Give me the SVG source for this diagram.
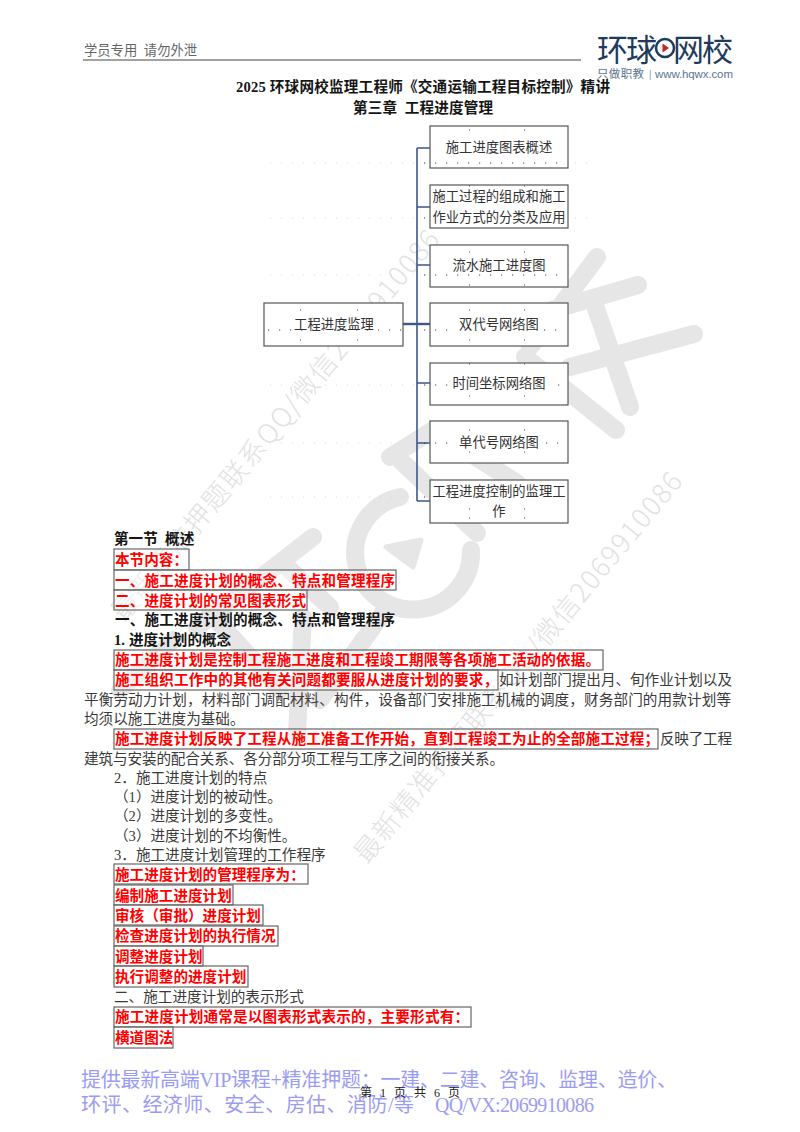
<svg xmlns="http://www.w3.org/2000/svg" width="800" height="1132" viewBox="0 0 800 1132">
<style>
text{font-family:"Liberation Serif","Noto Sans CJK SC",serif;font-size:14.600px;fill:#3a3a3a;white-space:pre}
.b{font-weight:700;fill:#151515}
.r{font-weight:700;fill:#f00}
.hl{fill:#fff;fill-opacity:.35;stroke:#666;stroke-width:1.200}
.n{fill:#fff;stroke:#555;stroke-width:1.200}
.nt{font-family:"Noto Sans CJK SC","Liberation Sans",sans-serif;font-size:13.300px;fill:#333;text-anchor:middle}
.c{fill:none;stroke:#3f5688;stroke-width:1.600}
.d{fill:none;stroke:#444;stroke-width:1.200;stroke-dasharray:1.200 9.800}
.p{fill:none;stroke:#444;stroke-width:1.200}
.g{fill:none;stroke:#d8d8d8;stroke-width:1;stroke-dasharray:1 10}
.wm{fill:none;stroke:#e6e6e6;stroke-width:18;stroke-linecap:round;stroke-linejoin:round}
.wt{font-family:"Noto Sans CJK SC","Liberation Sans",sans-serif;font-size:27px;font-weight:300;fill:#e2e2e2}
.f{font-size:20px;fill:#9a9cf4}
.s{font-family:"Noto Sans CJK SC","Liberation Sans",sans-serif;font-size:11.500px;fill:#5c7590}
.l{font-family:"Noto Sans CJK SC",sans-serif;font-size:31px;font-weight:400;fill:#1e3a5c}
</style>
<rect width="800" height="1132" fill="#fff"/>
<g id="watermark">
<path class="wm" d="M597 257L530 347M638 285L552 310M694 334L570 367M593 300L630 407M525 357L616 430"/>
<path class="wm" d="M390 457L433 430L517 483M400 460L477 533"/>
<path class="wm" d="M400 497A58 57 0 1 0 471 550"/>
<path class="wm" d="M313 537L197 627M287 567L330 607M210 613L280 690M303 617L297 733M383 613L320 700M173 640L120 690"/>
<path d="M386 547L421 540L413 567Z" fill="#e6e6e6" stroke="#e6e6e6" stroke-width="5" stroke-linejoin="round"/>
<text class="wt" transform="translate(124 623) rotate(-50.400)" textLength="497">最新精准押题联系QQ/微信2069910086</text>
<text class="wt" transform="translate(367 865) rotate(-50.400)" textLength="497">最新精准押题联系QQ/微信2069910086</text>
</g>
<g id="header">
<text x="84" y="55" style="fill:#666;font-size:13.300px">学员专用  请勿外泄</text>
<line x1="83" y1="60" x2="581" y2="60" stroke="#444" stroke-width="1.200"/>
<text class="l" x="597" y="61" textLength="60">环球</text>
<text class="l" x="673" y="61" textLength="60">网校</text>
<circle cx="665" cy="48" r="9" fill="none" stroke="#1e3a5c" stroke-width="2.500"/>
<path d="M662.500 43.500L669 48L662.500 52.500Z" fill="#c8202f"/>
<text class="s" x="597" y="78" textLength="47">只做职教</text>
<text class="s" x="649" y="78" style="font-size:9px">|</text>
<text class="s" x="655" y="78" textLength="78" style="font-family:'Liberation Sans',sans-serif">www.hqwx.com</text>
</g>
<text class="b" x="236" y="92" textLength="374">2025 环球网校监理工程师《交通运输工程目标控制》精讲</text>
<text class="b" x="353" y="113" textLength="140">第三章  工程进度管理</text>
<path class="g" d="M270 163H425M270 218H425M270 275H425M270 385H425M270 443H425M270 497H425M575 163H590M575 218H590M575 275H590"/>
<g id="connectors">
<path class="c" d="M417 148V501M417 148H430M417 207H430M417 265H430M417 383H430M417 443H430M417 501H430"/>
<path class="c" d="M403 324H430" style="stroke-width:2.400"/>
</g>
<g id="root"><rect class="n" x="264" y="303" width="139" height="43"/><path class="d" d="M268 330H402"/><path class="p" d="M300 310h1M357 310h1M300 340h1M357 340h1"/><text class="nt" x="334" y="329">工程进度监理</text></g>
<g id="n1"><rect class="n" x="430" y="126" width="138" height="42"/><path class="d" d="M424 163H566"/><path class="p" d="M469 130h1M524 130h1"/><text class="nt" x="499" y="152">施工进度图表概述</text></g>
<g id="n2"><rect class="n" x="430" y="185" width="138" height="43"/><path class="p" d="M469 186h1M524 186h1M424 218h1"/><text class="nt" x="499" y="201">施工过程的组成和施工</text><text class="nt" x="499" y="222">作业方式的分类及应用</text></g>
<g id="n3"><rect class="n" x="430" y="245" width="138" height="42"/><path class="d" d="M424 275H566"/><path class="p" d="M469 252h1M524 252h1M469 285h1M524 285h1"/><text class="nt" x="499" y="270">流水施工进度图</text></g>
<g id="n4"><rect class="n" x="430" y="303" width="138" height="43"/><path class="d" d="M424 330H452M544 330H566"/><path class="p" d="M469 310h1M524 310h1M469 340h1M524 340h1"/><text class="nt" x="499" y="329">双代号网络图</text></g>
<g id="n5"><rect class="n" x="430" y="363" width="138" height="42"/><path class="d" d="M424 385H448M558 385H566"/><path class="p" d="M469 364h1M524 364h1M469 396h1M524 396h1"/><text class="nt" x="499" y="388">时间坐标网络图</text></g>
<g id="n6"><rect class="n" x="430" y="421" width="138" height="42"/><path class="d" d="M424 443H454M546 443H566"/><path class="p" d="M469 430h1M524 430h1M469 452h1M524 452h1"/><text class="nt" x="499" y="447">单代号网络图</text></g>
<g id="n7"><rect class="n" x="430" y="480" width="138" height="43"/><path class="p" d="M469 509h1M524 509h1M469 518h1M524 518h1M424 497h1"/><text class="nt" x="499" y="496">工程进度控制的监理工</text><text class="nt" x="499" y="516">作</text></g>
<g id="body">
<rect class="hl" x="114" y="549" width="75" height="21"/>
<rect class="hl" x="114" y="570" width="282" height="20"/>
<rect class="hl" x="114" y="590" width="193" height="20"/>
<rect class="hl" x="114" y="650" width="489" height="20"/>
<rect class="hl" x="114" y="670" width="384" height="20"/>
<rect class="hl" x="114" y="729" width="544" height="20"/>
<rect class="hl" x="114" y="864" width="194" height="20"/>
<rect class="hl" x="114" y="885" width="119" height="20"/>
<rect class="hl" x="114" y="905" width="149" height="20"/>
<rect class="hl" x="114" y="926" width="164" height="20"/>
<rect class="hl" x="114" y="946" width="89" height="20"/>
<rect class="hl" x="114" y="966" width="134" height="21"/>
<rect class="hl" x="114" y="1007" width="357" height="20"/>
<rect class="hl" x="114" y="1027" width="59" height="21"/>
<text class="b" x="114" y="544">第一节  概述</text>
<text class="r" x="115" y="565">本节内容：</text>
<text class="r" x="115" y="586" textLength="280">一、施工进度计划的概念、特点和管理程序</text>
<text class="r" x="115" y="606" textLength="191">二、进度计划的常见图表形式</text>
<text class="b" x="115" y="625" textLength="280">一、施工进度计划的概念、特点和管理程序</text>
<text class="b" x="114" y="645">1.<tspan x="129">进度计划的概念</tspan></text>
<text class="r" x="115" y="665" textLength="485">施工进度计划是控制工程施工进度和工程竣工期限等各项施工活动的依据。</text>
<text class="r" x="115" y="685" textLength="383">施工组织工作中的其他有关问题都要服从进度计划的要求，</text>
<text x="499" y="685" textLength="233">如计划部门提出月、旬作业计划以及</text>
<text x="84" y="705" textLength="647">平衡劳动力计划，材料部门调配材料、构件，设备部门安排施工机械的调度，财务部门的用款计划等</text>
<text x="84" y="724">均须以施工进度为基础。</text>
<text class="r" x="115" y="744" textLength="544">施工进度计划反映了工程从施工准备工作开始，直到工程竣工为止的全部施工过程；</text>
<text x="660" y="744" textLength="72">反映了工程</text>
<text x="84" y="764" textLength="420">建筑与安装的配合关系、各分部分项工程与工序之间的衔接关系。</text>
<text x="114" y="783">2．施工进度计划的特点</text>
<text x="114" y="802">（1）进度计划的被动性。</text>
<text x="114" y="821">（2）进度计划的多变性。</text>
<text x="114" y="841">（3）进度计划的不均衡性。</text>
<text x="114" y="860">3．施工进度计划管理的工作程序</text>
<text class="r" x="115" y="880">施工进度计划的管理程序为：</text>
<text class="r" x="115" y="901">编制施工进度计划</text>
<text class="r" x="115" y="921">审核（审批）进度计划</text>
<text class="r" x="115" y="941">检查进度计划的执行情况</text>
<text class="r" x="115" y="962">调整进度计划</text>
<text class="r" x="115" y="982">执行调整的进度计划</text>
<text x="114" y="1002">二、施工进度计划的表示形式</text>
<text class="r" x="115" y="1022" textLength="354">施工进度计划通常是以图表形式表示的，主要形式有：</text>
<text class="r" x="115" y="1043">横道图法</text>
</g>
<g id="footer">
<text class="f" x="81" y="1087" textLength="596">提供最新高端VIP课程+精准押题：一建、二建、咨询、监理、造价、</text>
<text class="f" x="81" y="1112" textLength="333">环评、经济师、安全、房估、消防/等</text>
<text class="f" x="435" y="1112" textLength="159">QQ/VX:2069910086</text>
<text x="360" y="1097" textLength="100" style="font-size:12px;fill:#222">第 1 页 共 6 页</text>
</g>
</svg>
